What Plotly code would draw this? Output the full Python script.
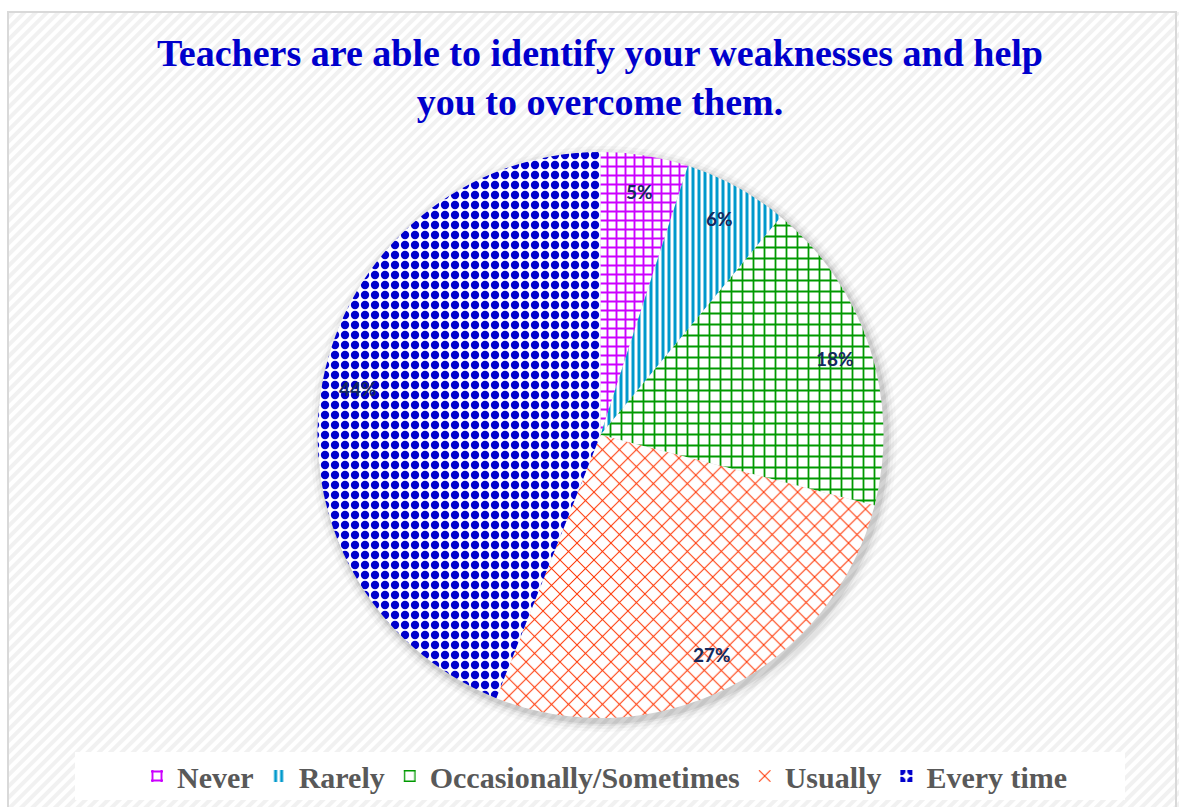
import base64
import math
import plotly.graph_objects as go

categories = ["Never", "Rarely", "Occasionally/Sometimes", "Usually", "Every time"]
values = [5, 6, 18, 27, 44]
colors = ["#CC00FF", "#0099CC", "#009900", "#FF3300", "#0000CC"]
shapes = ["+", "|", "+", "x", "."]
sizes = [9, 6, 11, 12, 10]
solidities = [0.38, 0.5, 0.3, 0.16, 0.55]

title_text = "<b>Teachers are able to identify your weaknesses and help<br>you to overcome them.</b>"

W, H = 1179, 807
# pie geometry (pixels)
PX0, PX1, PY0, PY1 = 317, 884, 152, 718
dom_x = [PX0 / W, PX1 / W]
dom_y = [1 - PY1 / H, 1 - PY0 / H]

svg = (
    f'<svg xmlns="http://www.w3.org/2000/svg" width="{W}" height="{H}">'
    '<defs><pattern id="p" width="8" height="8" patternUnits="userSpaceOnUse" '
    'patternTransform="rotate(45)">'
    '<rect width="8" height="8" fill="#ffffff"/>'
    '<rect width="4" height="8" fill="#f1f1f1"/></pattern></defs>'
    f'<rect width="{W}" height="{H}" fill="url(#p)"/></svg>'
)
svg_uri = "data:image/svg+xml;base64," + base64.b64encode(svg.encode()).decode()

fig = go.Figure(
    go.Pie(
        labels=categories,
        values=values,
        sort=False,
        direction="clockwise",
        rotation=0,
        textinfo="none",
        marker=dict(
            colors=["white"] * len(values),
            line=dict(width=0),
            pattern=dict(
                shape=shapes,
                fgcolor=colors,
                bgcolor=["white"] * len(values),
                fgopacity=1,
                size=sizes,
                solidity=solidities,
                fillmode="overlay",
            ),
        ),
        domain=dict(x=dom_x, y=dom_y),
        showlegend=True,
        hoverinfo="label+percent",
    )
)

# data labels placed radially at ~0.87 R, computed from the data values
cx_px = (PX0 + PX1) / 2
cy_px = (PY0 + PY1) / 2
R = (PX1 - PX0) / 2
total = sum(values)
annotations = []
cum = 0
for v in values:
    mid = (cum + v / 2) / total * 2 * math.pi
    cum += v
    lx = cx_px + 0.87 * R * math.sin(mid)
    ly = cy_px - 0.87 * R * math.cos(mid)
    annotations.append(
        dict(
            x=lx / W,
            y=1 - ly / H,
            xref="paper",
            yref="paper",
            text=f"<b>{round(v / total * 100)}%</b>",
            showarrow=False,
            font=dict(family="Lato", size=19, color="#13295E"),
            xanchor="center",
            yanchor="middle",
        )
    )

# soft shadow rings behind the pie
shadow = []
for k, a in [(10, 0.025), (7, 0.035), (4, 0.05), (2, 0.07)]:
    shadow.append(
        dict(
            type="circle", xref="paper", yref="paper",
            x0=(PX0 - k + 3) / W, x1=(PX1 + k + 3) / W,
            y0=1 - (PY1 + k + 4) / H, y1=1 - (PY0 - k + 4) / H,
            fillcolor=f"rgba(0,0,0,{a})", line=dict(width=0), layer="below",
        )
    )

fig.update_layout(
    width=W,
    height=H,
    margin=dict(l=0, r=0, t=0, b=0),
    paper_bgcolor="white",
    title=dict(
        text=title_text,
        x=600 / W,
        xanchor="center",
        y=1 - 66 / H,
        yanchor="middle",
        font=dict(family="Liberation Serif", size=38, color="#0000CC", lineposition="none"),
    ),
    legend=dict(
        orientation="h",
        x=605 / W,
        xanchor="center",
        y=1 - 776 / H,
        yanchor="middle",
        font=dict(family="Liberation Serif", size=30, color="#595959", weight="bold"),
        bgcolor="rgba(255,255,255,0)",
        itemwidth=30,
    ),
    annotations=annotations,
    images=[
        dict(
            source=svg_uri,
            xref="paper",
            yref="paper",
            x=0,
            y=1,
            sizex=1,
            sizey=1,
            sizing="stretch",
            layer="below",
        )
    ],
    shapes=[
        dict(type="rect", xref="paper", yref="paper", x0=0, x1=8 / W, y0=0, y1=1,
             fillcolor="white", line=dict(width=0), layer="below"),
        dict(type="rect", xref="paper", yref="paper", x0=0, x1=1, y0=1 - 12 / H, y1=1,
             fillcolor="white", line=dict(width=0), layer="below"),
        dict(type="rect", xref="paper", yref="paper", x0=8 / W, x1=1176 / W, y0=-0.01, y1=1 - 12 / H,
             fillcolor="rgba(0,0,0,0)", line=dict(color="#D9D9D9", width=2), layer="below"),
        dict(type="rect", xref="paper", yref="paper", x0=75 / W, x1=1125 / W, y0=1 - 800 / H, y1=1 - 752 / H,
             fillcolor="white", line=dict(width=0), layer="below"),
    ] + shadow,
)

fig.write_html(
    "out.html",
    config={"displayModeBar": False},
    post_script="document.body.style.margin='0px';document.body.style.overflow='hidden';",
)
